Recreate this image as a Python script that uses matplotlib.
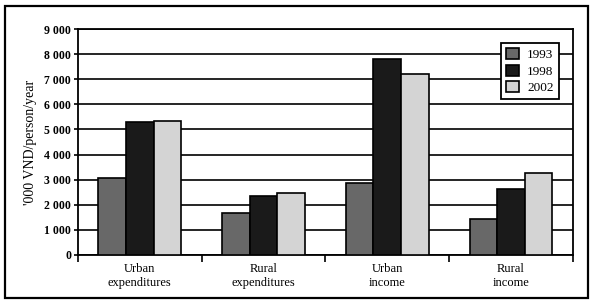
import numpy as np
import matplotlib
matplotlib.use("Agg")
import matplotlib.pyplot as plt
from matplotlib.patches import Rectangle

categories = ["Urban\nexpenditures", "Rural\nexpenditures", "Urban\nincome", "Rural\nincome"]
years = ["1993", "1998", "2002"]
v1993 = [3080, 1670, 2870, 1440]
v1998 = [5300, 2330, 7800, 2620]
v2002 = [5350, 2480, 7220, 3270]
yticks = [0, 1000, 2000, 3000, 4000, 5000, 6000, 7000, 8000, 9000]
ytick_labels = ["0", "1 000", "2 000", "3 000", "4 000", "5 000", "6 000", "7 000", "8 000", "9 000"]

plt.rcParams['font.family'] = ['Liberation Serif', 'DejaVu Serif']

fig = plt.figure(figsize=(5.98, 3.07), dpi=100)
ax = fig.add_axes([0.1304, 0.1694, 0.8276, 0.7361])

colors = ["#686868", "#1a1a1a", "#d4d4d4"]
width = 0.223
x = np.arange(len(categories))
series = [v1993, v1998, v2002]
for i, vals in enumerate(series):
    ax.bar(x + (i - 1) * width, vals, width, color=colors[i], edgecolor="black",
           linewidth=1.2, label=years[i], zorder=3)

ax.set_xlim(-0.5, 3.5)
ax.set_ylim(0, 9000)
ax.set_yticks(yticks)
ax.set_yticklabels(ytick_labels, fontsize=8.5, fontweight="bold")
ax.yaxis.grid(True, color="black", linewidth=1.2, zorder=0)

ax.set_xticks(np.arange(-0.5, 4, 1))
ax.set_xticklabels([])
ax.set_xticks(x, minor=True)
ax.set_xticklabels(categories, minor=True, fontsize=9, linespacing=1.2)
ax.tick_params(axis="x", which="major", direction="out", length=5, width=1.2)
ax.tick_params(axis="x", which="minor", length=0, pad=6)
ax.tick_params(axis="y", direction="out", length=3, width=1.2, pad=2)

for s in ax.spines.values():
    s.set_linewidth(1.3)
    s.set_color("black")

ax.set_ylabel("'000 VND/person/year", fontsize=10, labelpad=5)

leg = ax.legend(loc="upper right", bbox_to_anchor=(0.972, 0.938), borderaxespad=0,
                fontsize=9.5, fancybox=False, edgecolor="black", framealpha=1,
                handlelength=1.0, handleheight=0.9, handletextpad=0.6,
                labelspacing=0.25, borderpad=0.4)
leg.get_frame().set_linewidth(1.3)
leg.set_zorder(5)

fig.add_artist(Rectangle((5 / 598, 1 - 298 / 307), 583 / 598, 292 / 307,
                         transform=fig.transFigure, fill=False,
                         edgecolor="black", linewidth=1.6))

fig.savefig("out.png", dpi=100)
